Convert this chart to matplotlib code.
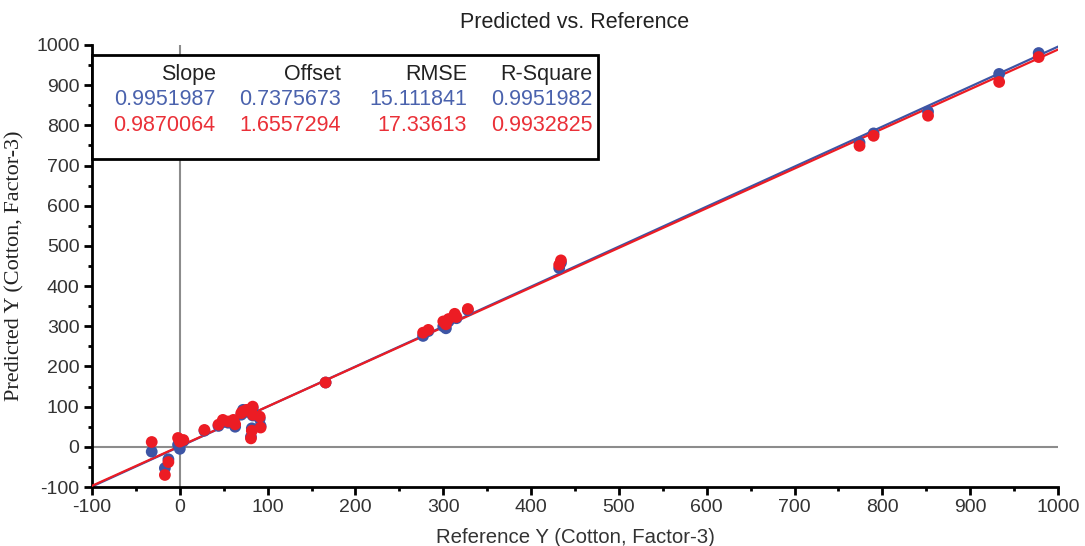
import matplotlib
matplotlib.use("Agg")
import matplotlib.pyplot as plt
from matplotlib.ticker import MultipleLocator
from matplotlib.patches import Rectangle
import numpy as np

plt.rcParams['font.family'] = ['Liberation Sans', 'DejaVu Sans']
plt.rcParams['axes.unicode_minus'] = False

# Data
reference = [-32, -13, -17, 0, -2, 4, 28, 44, 49, 55, 61, 63, 70, 72, 76, 83, 83, 91, 92, 82, 81,
             166, 277, 283, 300, 303, 306, 313, 315, 328, 432, 434, 774, 790, 852, 933, 978]
pred_blue = [-12, -31, -53, -5, 5, 14, 40, 52, 62, 60, 64, 50, 80, 92, 88, 96, 78, 70, 52, 46, 25,
             160, 276, 288, 300, 295, 312, 326, 320, 340, 445, 458, 757, 780, 834, 928, 980]
pred_red = [12, -38, -70, 13, 22, 17, 42, 55, 67, 63, 67, 56, 84, 88, 92, 100, 80, 75, 48, 40, 21,
            160, 284, 291, 312, 305, 318, 331, 323, 343, 453, 464, 749, 774, 824, 908, 970]

stat_headers = ["Slope", "Offset", "RMSE", "R-Square"]
stats_blue = ["0.9951987", "0.7375673", "15.111841", "0.9951982"]
stats_red = ["0.9870064", "1.6557294", "17.33613", "0.9932825"]
slope_blue, offset_blue = 0.9951987, 0.7375673
slope_red, offset_red = 0.9870064, 1.6557294

BLUE = "#3d55a5"
RED = "#ec1c24"
TXT_BLUE = "#4a62ad"
TXT_RED = "#ea3038"

fig = plt.figure(figsize=(10.85, 5.46), dpi=100)
ax = fig.add_axes([92/1085, 59/546, 966/1085, 442/546])
ax.set_xlim(-100, 1000)
ax.set_ylim(-100, 1000)

ax.axvline(0, color="#8c8c8c", lw=1.5, zorder=1)
ax.axhline(0, color="#8c8c8c", lw=1.5, zorder=1)

xs = np.array([-100, 1000])
ax.plot(xs, slope_blue * xs + offset_blue, color=BLUE, lw=1.6, zorder=2)
ax.plot(xs, slope_red * xs + offset_red, color=RED, lw=1.6, zorder=3)

ax.scatter(reference, pred_blue, s=72, color=BLUE, edgecolors='none', zorder=4)
ax.scatter(reference, pred_red, s=72, color=RED, edgecolors='none', zorder=5)

for s in ["top", "right"]:
    ax.spines[s].set_visible(False)
for s in ["left", "bottom"]:
    ax.spines[s].set_linewidth(2)
    ax.spines[s].set_color("black")

ax.xaxis.set_major_locator(MultipleLocator(100))
ax.xaxis.set_minor_locator(MultipleLocator(50))
ax.yaxis.set_major_locator(MultipleLocator(100))
ax.yaxis.set_minor_locator(MultipleLocator(50))
ax.tick_params(which="major", direction="out", length=6, width=2, color="black",
               labelsize=14, labelcolor="#333333", pad=3)
ax.tick_params(which="minor", direction="out", length=3, width=2, color="black")

ax.set_title("Predicted vs. Reference", fontsize=15.5, color="#222222", pad=12)
ax.set_xlabel("Reference Y (Cotton, Factor-3)", fontsize=14.7, color="#333333", labelpad=8)
ax.set_ylabel("Predicted Y (Cotton, Factor-3)", fontsize=16, color="#222222",
              family=["Liberation Serif", "DejaVu Serif"], labelpad=8)

# stats box
box = Rectangle((0.0, 0.742), 0.524, 0.235, transform=ax.transAxes, facecolor="white",
                edgecolor="black", lw=2, zorder=10, clip_on=False)
ax.add_patch(box)
col_x = [0.128, 0.258, 0.388, 0.518]
for cx, h, b, r in zip(col_x, stat_headers, stats_blue, stats_red):
    ax.text(cx, 0.934, h, transform=ax.transAxes, ha="right", va="center",
            fontsize=15.5, color="#222222", zorder=11)
    ax.text(cx, 0.876, b, transform=ax.transAxes, ha="right", va="center",
            fontsize=15.5, color=TXT_BLUE, zorder=11)
    ax.text(cx, 0.817, r, transform=ax.transAxes, ha="right", va="center",
            fontsize=15.5, color=TXT_RED, zorder=11)

fig.savefig("out.png", dpi=100)
